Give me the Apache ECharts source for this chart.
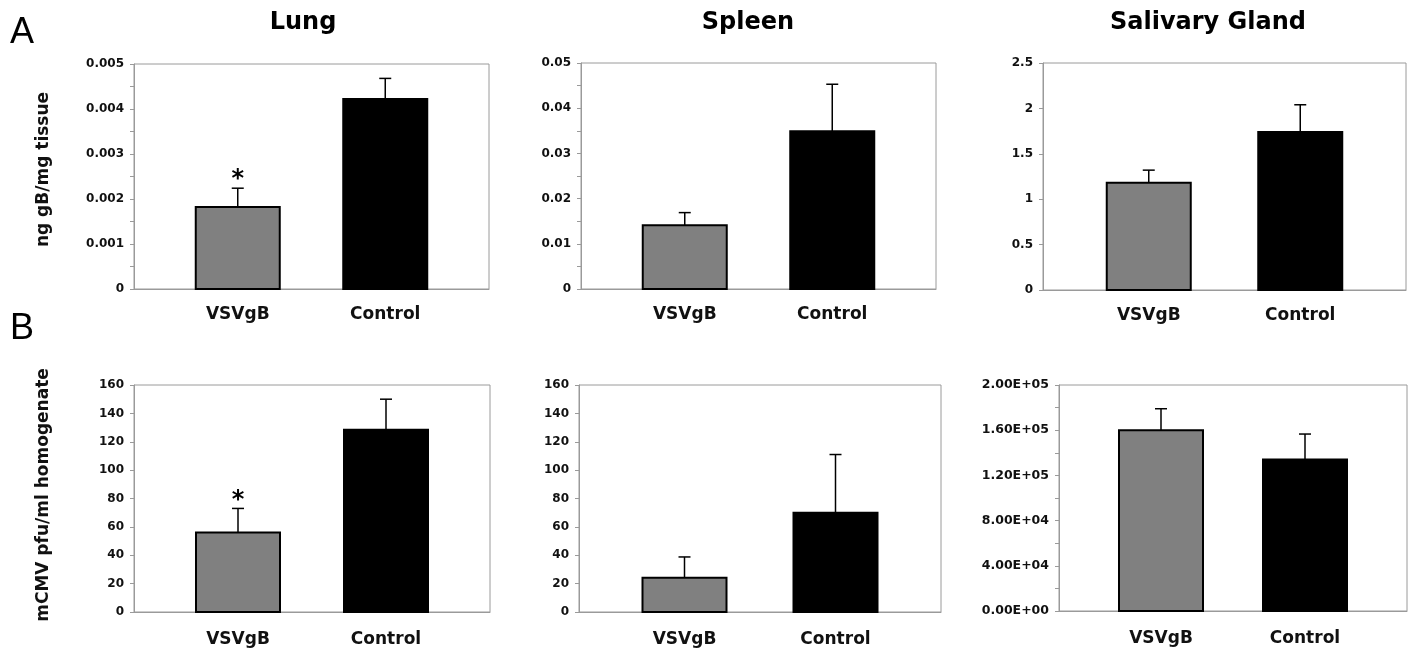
<!DOCTYPE html>
<html lang="en">
  <head>
    <meta charset="UTF-8" />
    <title>gB and mCMV titers in tissues</title>
    <script src="https://cdn.jsdelivr.net/npm/echarts@6/dist/echarts.min.js"></script>
    <style>
      html, body { margin: 0; background: #fff; }
      #chart { width: 1416px; height: 651px; }
    </style>
  </head>
  <body>
    <div id="chart"></div>
    <script>
      // categories / titles
      const groups = ["VSVgB", "Control"];
      const organs = ["Lung", "Spleen", "Salivary Gland"];
      const rowLetters = ["A", "B"];
      const yNames = ["ng gB/mg tissue", "mCMV pfu/ml homogenate"];

      // row A: ng gB / mg tissue (mean, upper SE)
      const gbLung = [0.00182, 0.00422];
      const gbLungErr = [0.00042, 0.00046];
      const gbSpleen = [0.0141, 0.0349];
      const gbSpleenErr = [0.0028, 0.0104];
      const gbSalivary = [1.18, 1.74];
      const gbSalivaryErr = [0.14, 0.3];

      // row B: mCMV pfu / ml homogenate
      const pfuLung = [56, 128.5];
      const pfuLungErr = [17, 21.5];
      const pfuSpleen = [24.2, 70];
      const pfuSpleenErr = [14.6, 41];
      const pfuSalivary = [160000, 134000];
      const pfuSalivaryErr = [19000, 22600];

      // * marks significance
      const lungSig = [1, 0];
      const noSig = [0, 0];

      // y axis ranges (max, step)
      const yMax = [0.005, 0.05, 2.5, 160, 160, 200000];
      const yStep = [0.001, 0.01, 0.5, 20, 20, 40000];

      const FONT = "DejaVu Sans";
      const GRAY = "#9a9a9a";
      const BAR_W = 84;
      const SHIFT = 15; // bars sit a bit inward of category centres
      const CAP = 6;

      // 1.6E+05 style, two digit exponent
      const sci = (v) => {
        const [m, e] = v.toExponential(2).split("e");
        return m + "E" + e[0] + e.slice(1).padStart(2, "0");
      };

      const panels = [
        { vals: gbLung, errs: gbLungErr, sig: lungSig, minor: true, box: [134, 64, 355, 225], labelGap: 17 },
        { vals: gbSpleen, errs: gbSpleenErr, sig: noSig, minor: true, box: [581, 63, 355, 226], labelGap: 17 },
        { vals: gbSalivary, errs: gbSalivaryErr, sig: noSig, minor: false, box: [1043, 63, 363, 227], labelGap: 17 },
        { vals: pfuLung, errs: pfuLungErr, sig: lungSig, minor: false, box: [134, 385, 356, 227], labelGap: 19 },
        { vals: pfuSpleen, errs: pfuSpleenErr, sig: noSig, minor: false, box: [579, 385, 362, 227], labelGap: 19 },
        { vals: pfuSalivary, errs: pfuSalivaryErr, sig: noSig, minor: true, box: [1059, 385, 348, 226], labelGap: 19, fmt: sci, fontSize: 12.5 },
      ];

      const renderBar = (params, api) => {
        const i = api.value(0);
        const v = api.value(1);
        const base = api.coord([i, 0]);
        const top = api.coord([i, v]);
        const tip = api.coord([i, v + api.value(2)]);
        const x = base[0] + (i === 0 ? SHIFT : -SHIFT);
        const line = { stroke: "#000", lineWidth: 1.5 };
        const children = [
          { type: "line", shape: { x1: x, y1: top[1], x2: x, y2: tip[1] }, style: line },
          { type: "line", shape: { x1: x - CAP, y1: tip[1], x2: x + CAP, y2: tip[1] }, style: line },
          {
            type: "rect",
            shape: { x: x - BAR_W / 2, y: top[1], width: BAR_W, height: base[1] - top[1] },
            style: { fill: i === 0 ? "#808080" : "#000", stroke: "#000", lineWidth: 2 },
          },
        ];
        if (api.value(3)) {
          children.push({
            type: "text",
            x: x,
            y: tip[1] - 8,
            style: { text: "*", font: `bold 24px ${FONT}`, fill: "#000", align: "center", verticalAlign: "middle" },
          });
        }
        return { type: "group", children };
      };

      const grid = panels.map((p) => ({
        left: p.box[0],
        top: p.box[1],
        width: p.box[2],
        height: p.box[3],
        show: true,
        borderColor: GRAY,
        borderWidth: 1,
        outerBoundsMode: "none",
      }));

      const xAxis = panels.map((p, k) => ({
        type: "category",
        gridIndex: k,
        data: groups,
        axisLine: { lineStyle: { color: GRAY } },
        axisTick: { show: false },
        axisLabel: {
          margin: p.labelGap,
          formatter: (v, idx) => (idx === 0 ? `{r|${v}}` : `{l|${v}}`),
          rich: {
            r: { padding: [0, 0, 0, 2 * SHIFT], fontFamily: FONT, fontWeight: "bold", fontSize: 17, color: "#111" },
            l: { padding: [0, 2 * SHIFT, 0, 0], fontFamily: FONT, fontWeight: "bold", fontSize: 17, color: "#111" },
          },
        },
      }));

      const yAxis = panels.map((p, k) => ({
        type: "value",
        gridIndex: k,
        min: 0,
        max: yMax[k],
        interval: yStep[k],
        name: k % 3 === 0 ? yNames[k / 3] : "",
        nameLocation: "middle",
        nameGap: 82,
        nameTextStyle: {
          fontFamily: FONT,
          fontWeight: "bold",
          fontSize: 17,
          color: "#111",
          padding: k === 0 ? [0, 0, 0, 14] : [0, 0, 0, 7],
        },
        axisLine: { show: true, lineStyle: { color: GRAY } },
        axisTick: { show: true, length: 4, lineStyle: { color: GRAY } },
        minorTick: { show: p.minor, splitNumber: 2, length: 4, lineStyle: { color: GRAY } },
        splitLine: { show: false },
        axisLabel: {
          margin: 10,
          fontFamily: FONT,
          fontWeight: "bold",
          fontSize: p.fontSize || 12,
          color: "#111",
          formatter: p.fmt,
        },
      }));

      const series = panels.map((p, k) => ({
        type: "custom",
        xAxisIndex: k,
        yAxisIndex: k,
        renderItem: renderBar,
        encode: { x: 0, y: 1 },
        data: groups.map((g, i) => [i, p.vals[i], p.errs[i], p.sig[i]]),
        clip: false,
      }));

      const titleX = [303, 748, 1208];
      const graphic = [
        ...organs.map((name, i) => ({
          type: "text",
          x: titleX[i],
          y: 23,
          style: { text: name, font: `bold 24px ${FONT}`, fill: "#000", align: "center", verticalAlign: "middle" },
        })),
        ...rowLetters.map((l, i) => ({
          type: "text",
          x: 22,
          y: i === 0 ? 33 : 329,
          style: { text: l, font: "36px 'Liberation Sans'", fill: "#000", align: "center", verticalAlign: "middle" },
        })),
      ];

      const chart = echarts.init(document.getElementById("chart"));
      chart.setOption({
        animation: false,
        backgroundColor: "#fff",
        grid,
        xAxis,
        yAxis,
        series,
        graphic,
      });
    </script>
  </body>
</html>
